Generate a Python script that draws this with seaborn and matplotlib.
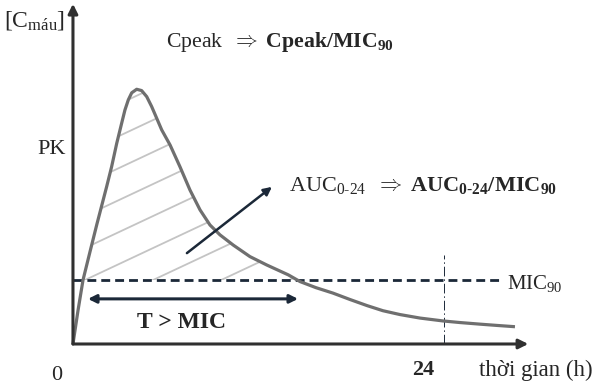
import numpy as np
import matplotlib.pyplot as plt
import seaborn as sns

sns.set_style("white")
plt.rcParams['font.family'] = ['Liberation Serif', 'DejaVu Serif']
plt.rcParams['mathtext.fontset'] = 'custom'
plt.rcParams['mathtext.rm'] = 'Liberation Serif'
plt.rcParams['mathtext.it'] = 'Liberation Serif:italic'
plt.rcParams['mathtext.bf'] = 'Liberation Serif:bold'

# concentration-time curve (MIC90 = 2)
time_h = [0, 0.32, 0.65, 1.1, 1.55, 2.18, 2.5, 2.83, 3.15, 3.36, 3.58, 3.8,
          4.12, 4.44, 4.77, 5.09, 5.42, 5.74, 6.28, 6.92, 7.57, 8.22, 8.86,
          9.51, 10.37, 11.45, 12.53, 13.93, 14.69, 15.72, 16.82, 17.92,
          19.02, 20.05, 21.15, 22.45, 23.94, 25.04, 26.33, 27.43, 28.59]
conc = [0.0, 1.03, 2.0, 2.88, 3.75, 4.92, 5.54, 6.27, 6.9, 7.31, 7.63, 7.85,
        7.96, 7.92, 7.73, 7.42, 7.05, 6.69, 6.22, 5.54, 4.81, 4.19, 3.72,
        3.41, 3.09, 2.73, 2.47, 2.16, 1.95, 1.76, 1.59, 1.39,
        1.2, 1.04, 0.92, 0.81, 0.72, 0.67, 0.62, 0.58, 0.54]
mic90 = 2.0
t_dose = 24
t_above = (0.97, 14.56)  # T > MIC arrow ends

navy = '#1b2838'
gray = '#6f6f6f'

fig = plt.figure(figsize=(6, 3.87), dpi=100)
ax = fig.add_axes([0, 0, 1, 1])
ax.set_xlim(-4.72, 34.09)
ax.set_ylim(-1.344, 10.75)
ax.axis('off')

t = np.array(time_h)
c = np.array(conc)

# hatched area above MIC
poly = ax.fill_between(t, c, mic90, where=c >= mic90, interpolate=True,
                       facecolor='none', edgecolor='none')
clip = poly.get_paths()[0]
tt = np.array([-5, 35])
for k in range(-20, 10):
    ln, = ax.plot(tt, mic90 + 0.227 * (tt - 0.78) + k * 1.0,
                  color='#c4c4c4', lw=1.3)
    ln.set_clip_path(clip, ax.transData)

# MIC line and 24 h marker
ax.plot([0, 27.6], [mic90, mic90], color=navy, lw=2, linestyle=(0, (3.2, 1.8)))
ax.plot([t_dose, t_dose], [0, 2.78], color=navy, lw=0.7,
        linestyle=(0, (10, 3, 1.5, 3)))

sns.lineplot(x=time_h, y=conc, ax=ax, color=gray, lw=2.3,
             solid_capstyle='butt', solid_joinstyle='round')

# axes arrows
arr = dict(arrowstyle='-|>', color='#303030', lw=2.2, mutation_scale=14,
           shrinkA=0, shrinkB=0)
ax.annotate('', xy=(29.45, 0), xytext=(0, 0), arrowprops=arr)
ax.annotate('', xy=(0, 10.63), xytext=(0, 0), arrowprops=arr)

# T > MIC double arrow
ax.annotate('', xy=(t_above[1], 1.41), xytext=(t_above[0], 1.41),
            arrowprops=dict(arrowstyle='<|-|>', color=navy, lw=2.2,
                            mutation_scale=12, shrinkA=0, shrinkB=0))
# AUC arrow
ax.annotate('', xy=(12.87, 4.91), xytext=(7.37, 2.84),
            arrowprops=dict(arrowstyle='-|>', color=navy, lw=1.8,
                            mutation_scale=12, shrinkA=0, shrinkB=0))

def fx(px, py):
    return px / 600, 1 - py / 387

fs = 16
ax.text(*fx(4, 20), r'[C$_{\mathrm{máu}}$]', transform=ax.transAxes,
        fontsize=fs + 1, va='center', ha='left')
ax.text(*fx(37, 150), 'PK', transform=ax.transAxes, fontsize=fs,
        va='center', ha='left')
ax.text(*fx(166, 42), r'Cpeak  $\Rightarrow$ $\mathbf{Cpeak/MIC_{90}}$',
        transform=ax.transAxes, fontsize=15.7, va='center', ha='left')
ax.text(*fx(289, 185),
        r'AUC$_{\mathrm{0‐24}}$  $\Rightarrow$ $\mathbf{AUC_{0‐24}/MIC_{90}}$',
        transform=ax.transAxes, fontsize=fs, va='center', ha='left')
ax.text(*fx(507, 284), r'MIC$_{\mathrm{90}}$', transform=ax.transAxes,
        fontsize=15, va='center', ha='left')
ax.text(*fx(181, 322), 'T > MIC', transform=ax.transAxes, fontsize=17,
        fontweight='bold', va='center', ha='center')
ax.text(*fx(57, 375), '0', transform=ax.transAxes, fontsize=fs,
        va='center', ha='center')
ax.text(*fx(423, 370), '24', transform=ax.transAxes, fontsize=fs,
        fontweight='bold', va='center', ha='center')
ax.text(*fx(479, 370), 'thời gian (h)', transform=ax.transAxes, fontsize=16.5,
        va='center', ha='left')

fig.savefig('out.png', dpi=100)
